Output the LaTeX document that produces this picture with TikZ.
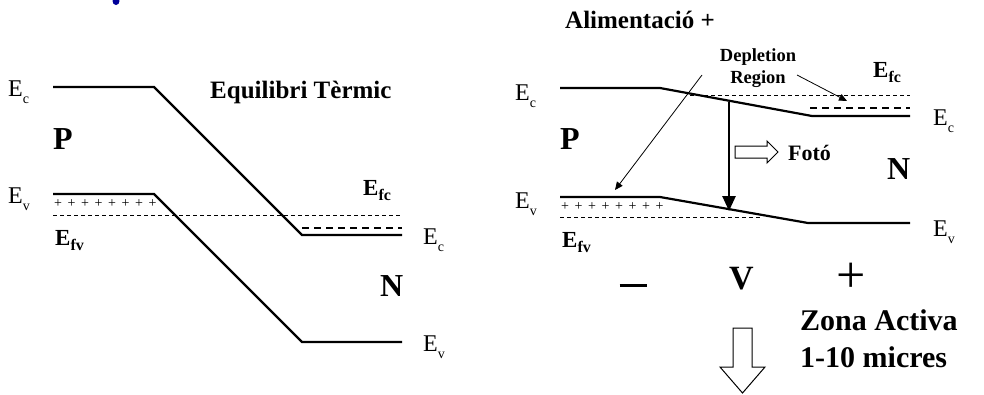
\documentclass[tikz,border=0pt]{standalone}
\usepackage{fontspec}
\setmainfont{Liberation Serif}
\usepackage{tikz}
\usetikzlibrary{arrows.meta, positioning}
\tikzset{
    band/.style={line width=2.2pt, line join=miter},
    fermi/.style={line width=0.9pt, dash pattern=on 4pt off 3pt},
    fermithick/.style={line width=2pt, dash pattern=on 7pt off 5pt},
    elabel/.style={inner sep=0, anchor=base west, font=\fontsize{24}{26}\selectfont},
    blabel/.style={inner sep=0, anchor=base west, font=\fontsize{23}{25}\selectfont\bfseries},
    region/.style={inner sep=0, anchor=base west, font=\fontsize{32}{34}\selectfont\bfseries},
    title/.style={inner sep=0, anchor=base west, font=\fontsize{25}{27}\selectfont\bfseries},
    small/.style={inner sep=0, anchor=base west, font=\fontsize{22}{24}\selectfont\bfseries},
    pointer/.style={line width=0.8pt, -{Triangle[length=8pt, width=7pt]}},
    hollow/.style={draw, line width=1pt, fill=white}
}
\newcommand{\lsub}[1]{\raisebox{-7pt}{\fontsize{14}{14}\selectfont #1}}
\newcommand{\bsub}[1]{\raisebox{-5.5pt}{\fontsize{16}{16}\selectfont\bfseries #1}}

\begin{document}
\begin{tikzpicture}[x=1pt, y=-1pt]
    \useasboundingbox (0,0) rectangle (984,394);
    \fill[blue!60!black] (116,1) ellipse (3.5 and 4);

    % equilibri termic
    \node (title1) [title] at (210,98) {Equilibri Tèrmic};
    \node (ecL1) [elabel] at (8,96) {E\lsub{c}};
    \node (evL1) [elabel] at (8,203) {E\lsub{v}};
    \node (pL) [region] at (53,149) {P};
    \node (efvL) [blabel] at (55,245) {E\bsub{fv}};
    \node (efcL) [blabel] at (363,195) {E\bsub{fc}};
    \node (ecR1) [elabel] at (423,244) {E\lsub{c}};
    \node (nL) [region] at (380,296) {N};
    \node (evR1) [elabel] at (423,351) {E\lsub{v}};

    \draw [band] (53,87) -- (154,87) -- (302,235) -- (402,235);
    \draw [band] (53,194) -- (154,194) -- (302,342) -- (402,342);
    \foreach \i in {0,...,7}
        \node [inner sep=0, font=\fontsize{14}{14}\selectfont] at (58+\i*13.5,204) {+};
    \draw [fermi] (53,215) -- (402,215);
    \draw [fermithick] (302,228) -- (402,228);

    % alimentacio
    \node (title2) [title] at (565,28) {Alimentació +};
    \node (ecL2) [elabel] at (515,100) {E\lsub{c}};
    \node (evL2) [elabel] at (515,208) {E\lsub{v}};
    \node (pR) [region] at (560,149) {P};
    \node (efvR) [blabel] at (562,247) {E\bsub{fv}};
    \node (efcR) [blabel] at (873,77) {E\bsub{fc}};
    \node (ecR2) [elabel] at (933,125) {E\lsub{c}};
    \node (evR2) [elabel] at (933,236) {E\lsub{v}};
    \node (nR) [region] at (887,179) {N};
    \node (depl) [small, align=center, anchor=north, font=\fontsize{18.5}{22}\selectfont\bfseries] at (758,48) {Depletion\\Region};
    \node (foto) [small] at (788,160) {Fotó};

    \draw [band] (560,88) -- (660,88) -- (812,116) -- (910,116);
    \draw [band] (560,197) -- (660,197) -- (808,223) -- (910,223);
    \foreach \i in {0,...,7}
        \node [inner sep=0, font=\fontsize{14}{14}\selectfont] at (565+\i*13.5,207) {+};
    \draw [fermi] (560,217) -- (760,217);
    \draw [fermi] (690,95) -- (910,95);
    \draw [fermithick] (810,108) -- (910,108);

    \coordinate (topc) at (729,102);
    \coordinate (botv) at (729,211);
    \draw [line width=2.6pt, -{Triangle[length=15pt, width=13pt]}] (topc) -- (botv);

    \coordinate (d1) at (702,75);
    \coordinate (d2) at (797,75);
    \coordinate (pv) at (615,190);
    \coordinate (pc) at (847,101);
    \draw [pointer] (d1) -- (pv);
    \draw [pointer] (d2) -- (pc);

    % hollow arrows
    \draw [hollow] (735,146) -- (767,146) -- (767,141) -- (778,152) -- (767,163) -- (767,158) -- (735,158) -- cycle;

    \node (minus) [inner sep=0] at (633,285) {\rule{27pt}{3pt}};
    \node (volt) [region, font=\fontsize{34}{36}\selectfont\bfseries] at (729,289) {V};
    \node (plus) [inner sep=0, font=\fontsize{52}{52}\selectfont] at (851,278) {+};

    \draw [hollow] (733,328) -- (752,328) -- (752,367) -- (765,367) -- (742.5,393) -- (720,367) -- (733,367) -- cycle;
    \node (zona) [region, font=\fontsize{30}{32}\selectfont\bfseries] at (800,330) {Zona Activa};
    \node (micres) [region, font=\fontsize{30}{32}\selectfont\bfseries] at (800,367) {1-10 micres};
\end{tikzpicture}
\end{document}
